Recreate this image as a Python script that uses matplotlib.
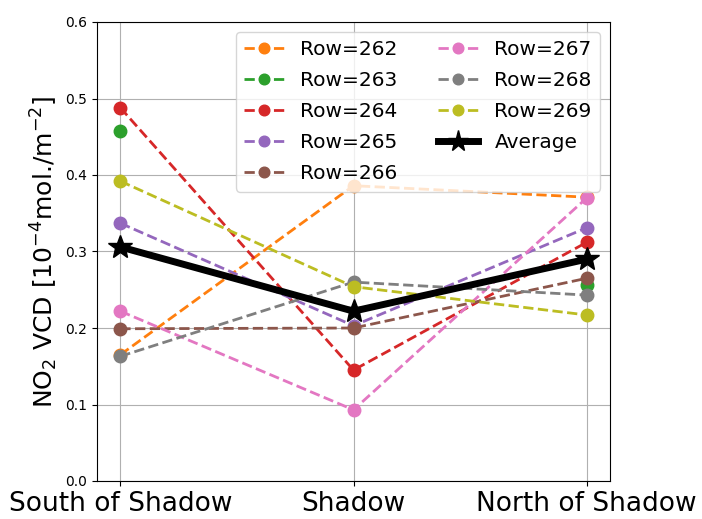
import numpy as np
import matplotlib
matplotlib.use("Agg")
import matplotlib.pyplot as plt

positions = ["South of Shadow", "Shadow", "North of Shadow"]
rows = [262, 263, 264, 265, 266, 267, 268, 269]
colors = ["tab:orange", "tab:green", "tab:red", "tab:purple",
          "tab:brown", "tab:pink", "tab:gray", "tab:olive"]

row_262 = [0.165, 0.386, 0.371]
row_263 = [0.458, np.nan, 0.256]
row_264 = [0.488, 0.145, 0.312]
row_265 = [0.337, 0.203, 0.331]
row_266 = [0.199, 0.200, 0.265]
row_267 = [0.222, 0.093, 0.370]
row_268 = [0.163, 0.260, 0.243]
row_269 = [0.392, 0.254, 0.217]
average = [0.306, 0.222, 0.290]

series = [row_262, row_263, row_264, row_265, row_266, row_267, row_268, row_269]

fig = plt.figure(figsize=(7.02, 5.19), dpi=100)
ax = fig.add_axes([97 / 702, 1 - 481 / 519, (610 - 97) / 702, (481 - 22) / 519])

x = np.arange(len(positions))
for r, vals, c in zip(rows, series, colors):
    ax.plot(x, vals, "--o", color=c, lw=2, ms=9, label=f"Row={r}")
ax.plot(x, average, "-*", color="black", lw=5, ms=18, label="Average")

ax.set_xlim(-0.1, 2.1)
ax.set_ylim(0, 0.6)
ax.set_xticks(x)
ax.set_xticklabels(positions, fontsize=19)
ax.tick_params(axis="y", labelsize=10)
ax.set_ylabel(r"NO$_2$ VCD [10$^{-4}$mol./m$^{-2}$]", fontsize=18)
ax.grid(True)
ax.legend(ncol=2, loc="upper right", fontsize=14.5, markerscale=0.85,
          labelspacing=0.6)

fig.savefig("out.png", dpi=100)
